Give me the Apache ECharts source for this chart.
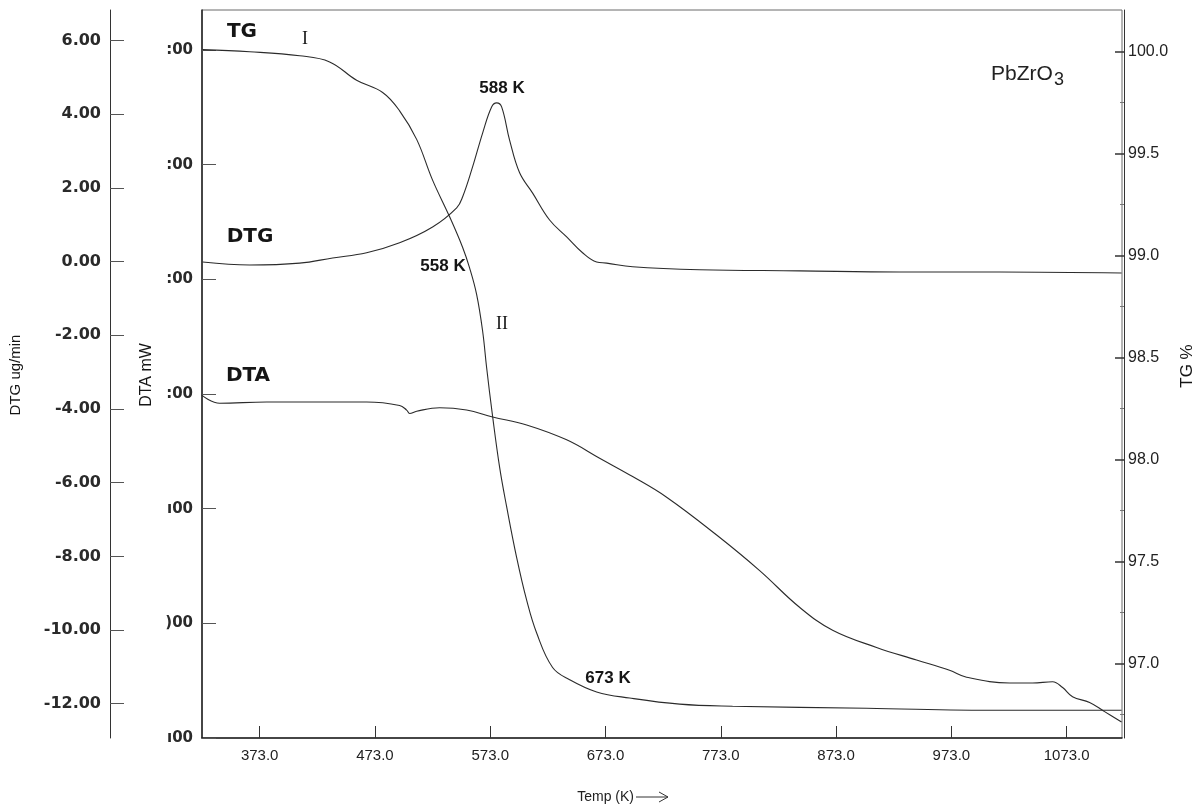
<!DOCTYPE html>
<html>
<head>
<meta charset="utf-8">
<script src="https://cdn.jsdelivr.net/npm/echarts@6/dist/echarts.min.js"></script>
<style>
html,body{margin:0;padding:0;background:#fff;}
#chart{width:1201px;height:805px;}
</style>
</head>
<body>
<div id="chart"></div>
<script>
// ---- tick labels ----
const xTickValues = [373, 473, 573, 673, 773, 873, 973, 1073];
const dtgTickValues = [-12, -10, -8, -6, -4, -2, 0, 2, 4, 6];
const tgTickValues = [97.0, 97.5, 98.0, 98.5, 99.0, 99.5, 100.0];
const tgMinorTickValues = [96.75, 97.25, 97.75, 98.25, 98.75, 99.25, 99.75];
const dtaTickPositions = [0, 1, 2, 3, 4, 5, 6];
const dtaTickLabels = ['\u013100', ')00', '\u013100', ':00', ':00', ':00', ':00']; // truncated in the scan

// ---- TG curve (%), right axis ----
const tgTemp = [323.6, 364.3, 407.7, 433.7, 457.1, 479.7, 494.4, 509.2, 523.0, 537.8, 549.1, 555.1, 561.2, 566.4, 569.9, 575.1, 581.2, 587.2, 595.9, 604.6, 613.2, 627.1, 641.9, 665.3, 693.9, 737.3, 783.2, 899.5, 1014.8, 1120.6];
const tgValues = [100.01, 100.00, 99.98, 99.95, 99.86, 99.80, 99.71, 99.57, 99.37, 99.19, 99.04, 98.94, 98.81, 98.63, 98.45, 98.21, 97.96, 97.77, 97.52, 97.31, 97.15, 96.98, 96.92, 96.86, 96.83, 96.80, 96.79, 96.78, 96.77, 96.77];

// ---- DTG curve (ug/min), outer left axis ----
const dtgTemp = [323.6, 364.3, 407.7, 436.3, 465.8, 494.4, 523.0, 543.9, 549.1, 557.7, 566.4, 574.2, 578.6, 582.9, 589.8, 598.5, 609.8, 624.5, 639.3, 653.1, 665.3, 674.0, 696.5, 754.6, 841.3, 928.1, 1014.8, 1120.6];
const dtgValues = [-0.01, -0.09, -0.04, 0.10, 0.24, 0.51, 0.94, 1.46, 1.76, 2.57, 3.49, 4.20, 4.31, 4.20, 3.30, 2.41, 1.86, 1.13, 0.67, 0.24, -0.01, -0.04, -0.14, -0.22, -0.25, -0.28, -0.28, -0.31];

// ---- DTA curve (tick units of the truncated mW axis), inner left axis ----
const dtaTemp = [322.7, 338.3, 379.1, 465.8, 494.4, 500.5, 503.1, 509.2, 529.1, 552.5, 575.1, 604.6, 639.3, 667.9, 696.5, 726.0, 769.4, 806.7, 841.3, 870.0, 908.1, 942.8, 971.4, 986.2, 1023.5, 1043.4, 1060.8, 1069.5, 1078.1, 1092.9, 1105.9, 1120.6];
const dtaValues = [2.99, 2.92, 2.93, 2.93, 2.90, 2.86, 2.83, 2.85, 2.88, 2.86, 2.80, 2.73, 2.60, 2.44, 2.28, 2.10, 1.77, 1.46, 1.14, 0.94, 0.79, 0.68, 0.59, 0.53, 0.48, 0.48, 0.49, 0.44, 0.36, 0.31, 0.23, 0.14];

const zip = (a, b) => a.map((v, i) => [v, b[i]]);

const chart = echarts.init(document.getElementById('chart'));
const lineColor = '#2b2b2b';
const axisColor = '#333';
const labelFont = 'DejaVu Sans';
const sans = 'Liberation Sans, Arial, sans-serif';

function text(x, y, str, font, extra) {
  return Object.assign({
    type: 'text', x: x, y: y, silent: true,
    style: { text: str, font: font, fill: '#151515', align: 'center', verticalAlign: 'middle', textAlign: 'center', textVerticalAlign: 'middle' }
  }, extra || {});
}

const option = {
  backgroundColor: '#fff',
  animation: false,
  grid: { left: 202, right: 79, top: 10, bottom: 67, show: true, borderColor: '#6a6a6a', borderWidth: 1, containLabel: false },
  xAxis: {
    type: 'value', min: 323, max: 1121,
    axisLine: { show: true, onZero: false, lineStyle: { color: '#222', width: 1.5 } },
    axisTick: { show: true, inside: true, length: 12, customValues: xTickValues, lineStyle: { color: axisColor } },
    axisLabel: { show: true, customValues: xTickValues, formatter: v => v.toFixed(1), margin: 10, fontSize: 15, fontFamily: 'Liberation Sans Narrow, Liberation Sans, Arial', color: '#222' },
    splitLine: { show: false }
  },
  yAxis: [
    {
      type: 'value', position: 'left', offset: 92, min: -12.93, max: 6.83,
      axisLine: { show: true, onZero: false, lineStyle: { color: axisColor, width: 1 } },
      axisTick: { show: true, inside: true, length: 14, customValues: dtgTickValues, lineStyle: { color: '#555' } },
      axisLabel: { show: true, customValues: dtgTickValues, formatter: v => v.toFixed(2), margin: 9, fontSize: 16, fontWeight: 'bold', fontFamily: labelFont, color: '#2a2a2a' },
      splitLine: { show: false }
    },
    {
      type: 'value', position: 'left', offset: 0, min: 0, max: 6.349,
      axisLine: { show: true, onZero: false, lineStyle: { color: '#222', width: 1.5 } },
      axisTick: { show: true, inside: true, length: 14, customValues: dtaTickPositions, lineStyle: { color: '#555' } },
      axisLabel: { show: true, customValues: dtaTickPositions, formatter: v => dtaTickLabels[Math.round(v)], margin: 9, fontSize: 15, fontWeight: 'bold', fontFamily: labelFont, color: '#2a2a2a' },
      splitLine: { show: false }
    },
    {
      type: 'value', position: 'right', offset: 2, min: 96.634, max: 100.2045,
      axisLine: { show: true, onZero: false, lineStyle: { color: axisColor, width: 1 } },
      axisTick: { show: true, inside: true, length: 9, customValues: tgTickValues, lineStyle: { color: '#333', width: 1.5 } },
      axisLabel: { show: true, customValues: tgTickValues, formatter: v => v.toFixed(1), margin: 4, fontSize: 16, fontFamily: sans, color: '#222' },
      splitLine: { show: false }
    },
    {
      type: 'value', position: 'right', offset: 2, min: 96.634, max: 100.2045,
      axisLine: { show: false },
      axisTick: { show: true, inside: true, length: 4, customValues: tgMinorTickValues, lineStyle: { color: '#777' } },
      axisLabel: { show: false },
      splitLine: { show: false }
    }
  ],
  series: [
    { name: 'TG', type: 'line', yAxisIndex: 2, data: zip(tgTemp, tgValues), showSymbol: false, smooth: 0.4, lineStyle: { color: lineColor, width: 1.1 } },
    { name: 'DTG', type: 'line', yAxisIndex: 0, data: zip(dtgTemp, dtgValues), showSymbol: false, smooth: 0.4, lineStyle: { color: lineColor, width: 1.1 } },
    { name: 'DTA', type: 'line', yAxisIndex: 1, data: zip(dtaTemp, dtaValues), showSymbol: false, smooth: 0.4, lineStyle: { color: lineColor, width: 1.1 } }
  ],
  graphic: [
    text(242, 32, 'TG', 'bold 20px DejaVu Sans'),
    text(250, 237, 'DTG', 'bold 20px DejaVu Sans'),
    text(248, 376, 'DTA', 'bold 20px DejaVu Sans'),
    text(305, 39, 'I', '18px Liberation Serif'),
    text(502, 324, 'II', '18px Liberation Serif'),
    text(502, 88, '588 K', 'bold 17px Liberation Sans'),
    text(443, 266, '558 K', 'bold 17px Liberation Sans'),
    text(608, 678, '673 K', 'bold 17px Liberation Sans'),
    { type: 'text', x: 991, y: 74, silent: true, style: { text: 'PbZrO', font: '21px Liberation Sans', fill: '#222', align: 'left', verticalAlign: 'middle', textAlign: 'left', textVerticalAlign: 'middle' } },
    { type: 'text', x: 1054, y: 80, silent: true, style: { text: '3', font: '18px Liberation Sans', fill: '#222', align: 'left', verticalAlign: 'middle', textAlign: 'left', textVerticalAlign: 'middle' } },
    text(16, 375, 'DTG ug/min', '15px Liberation Sans', { rotation: Math.PI / 2 }),
    text(147, 375, 'DTA mW', '16px Liberation Sans', { rotation: Math.PI / 2 }),
    text(1187, 366, 'TG %', '17px Liberation Sans', { rotation: Math.PI / 2 }),
    { type: 'text', x: 634, y: 797, silent: true, style: { text: 'Temp (K)', font: '14px Liberation Sans Narrow, Liberation Sans', fill: '#222', align: 'right', verticalAlign: 'middle', textAlign: 'right', textVerticalAlign: 'middle' } },
    { type: 'line', silent: true, shape: { x1: 636, y1: 797, x2: 668, y2: 797 }, style: { stroke: '#333', lineWidth: 1 } },
    { type: 'polyline', silent: true, shape: { points: [[659, 792], [668, 797], [659, 802]] }, style: { stroke: '#333', lineWidth: 1, fill: null } }
  ]
};
chart.setOption(option);
</script>
</body>
</html>
